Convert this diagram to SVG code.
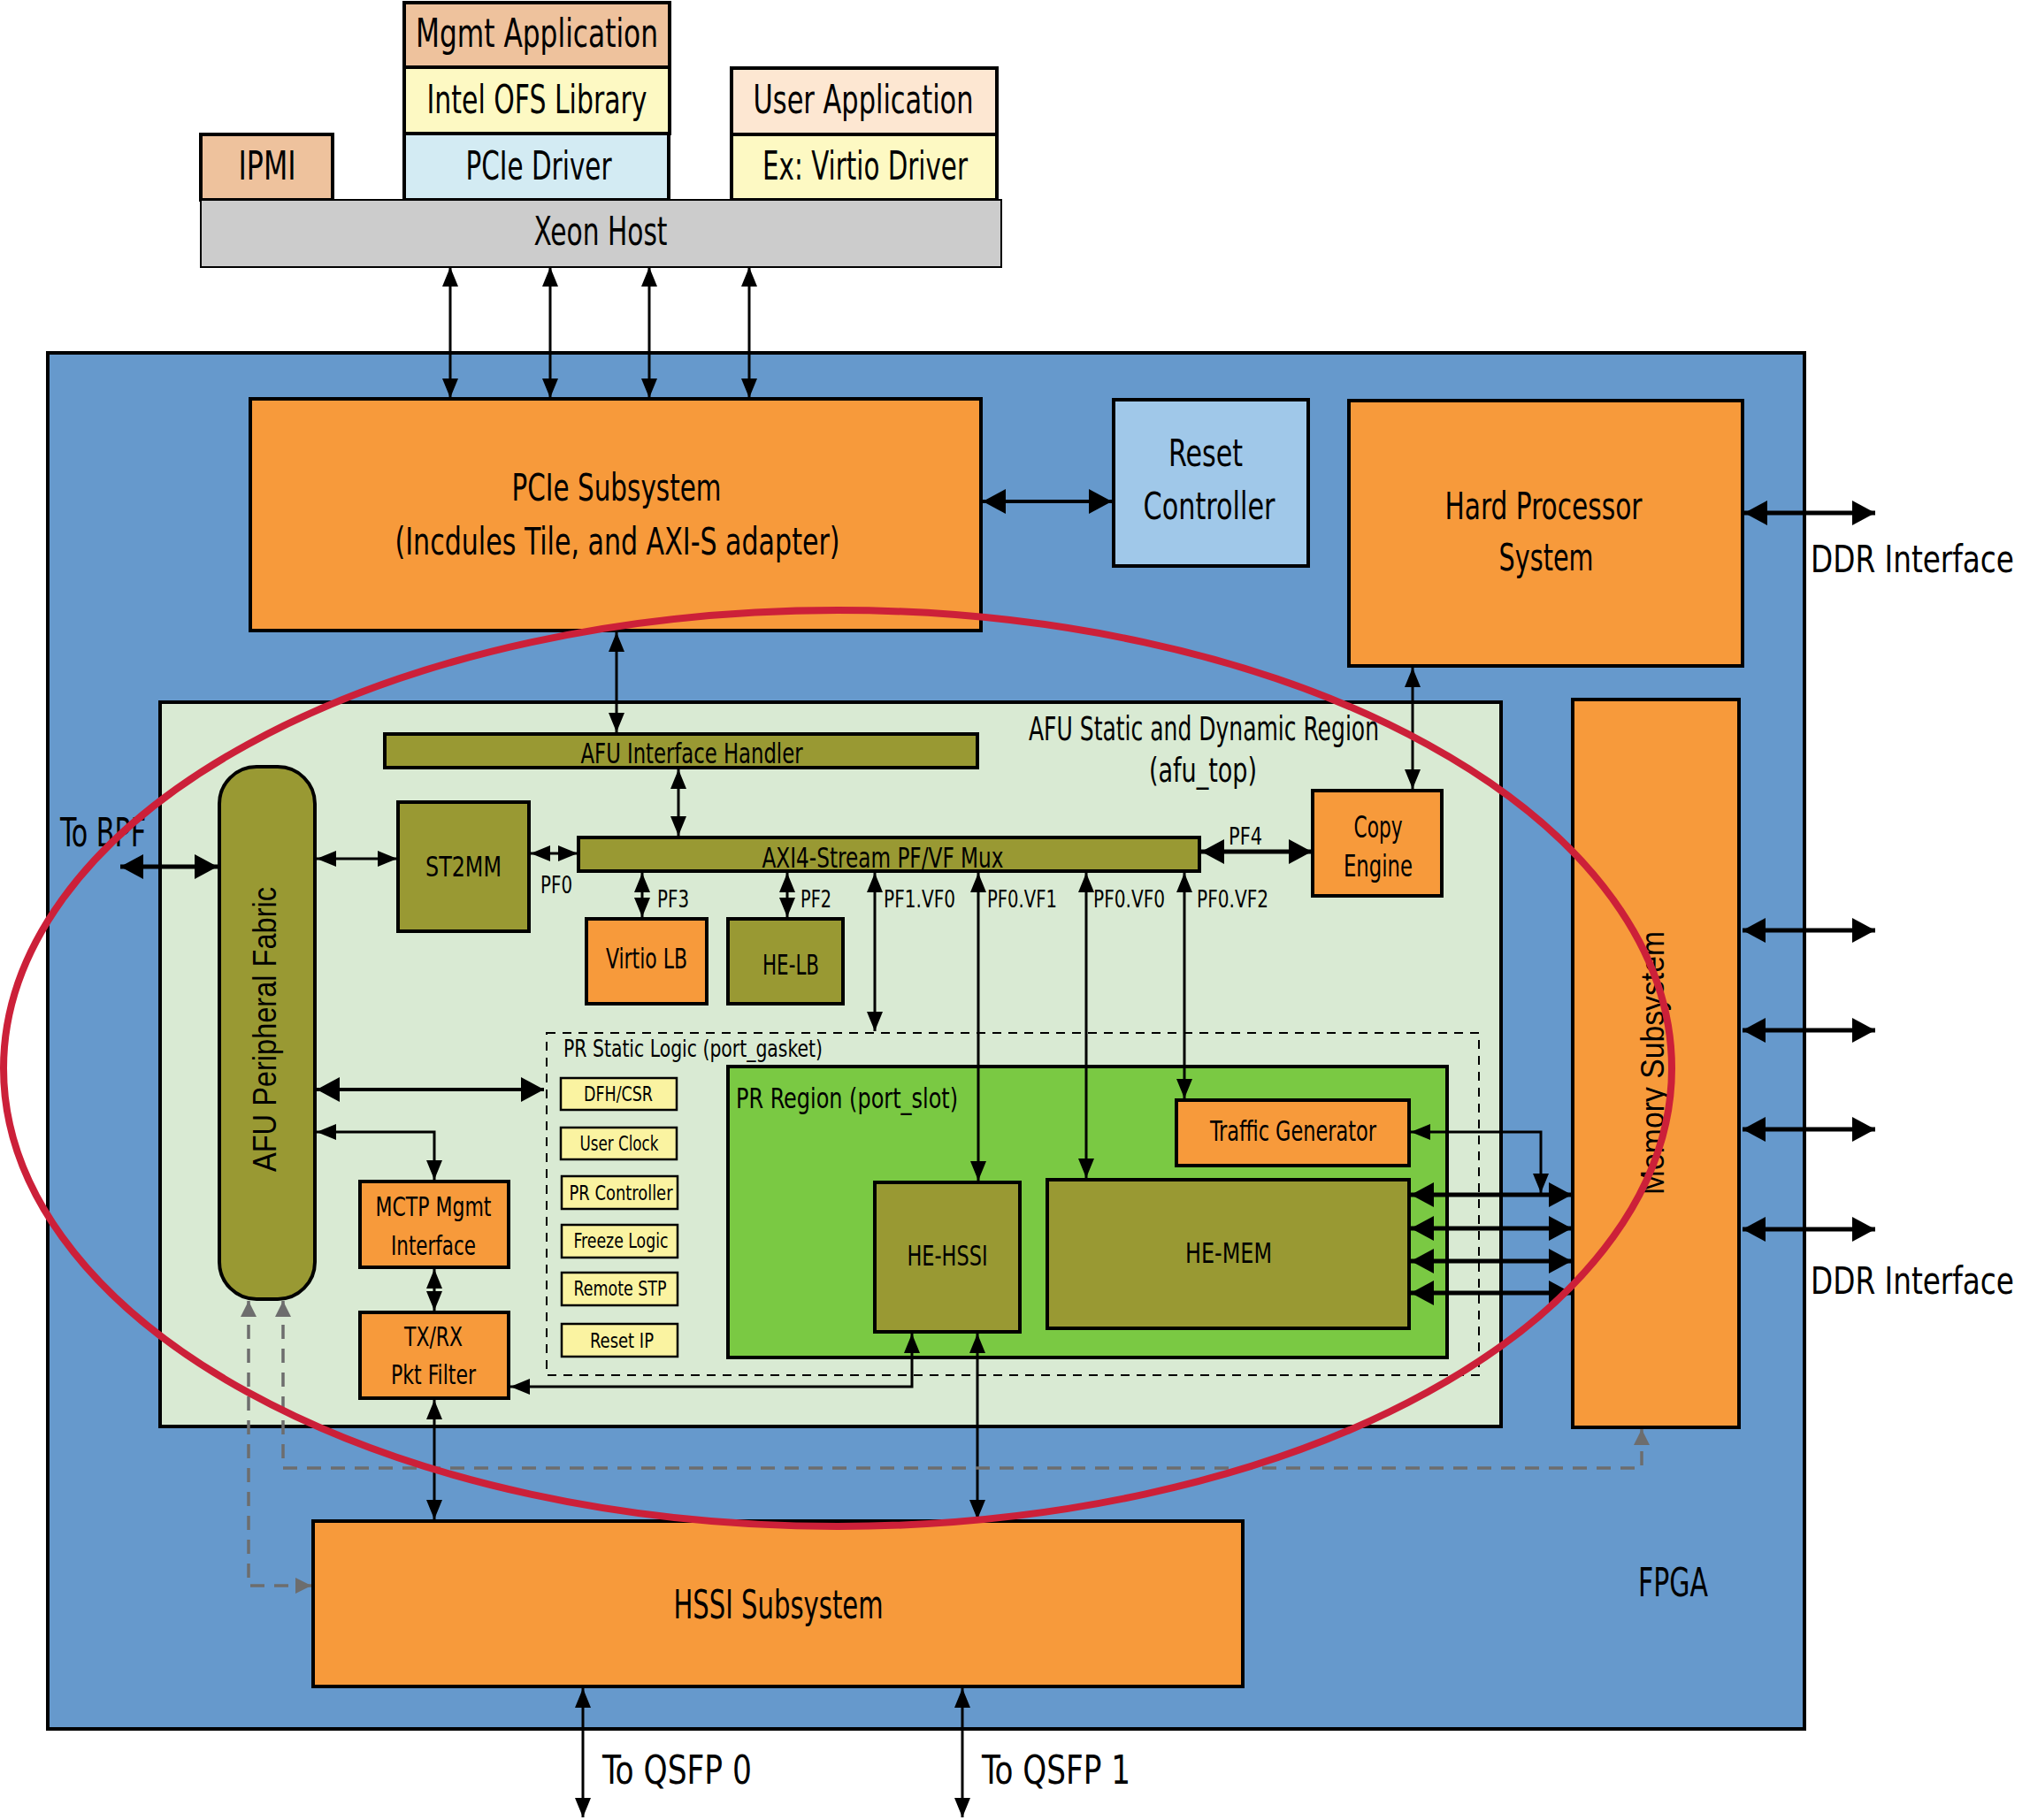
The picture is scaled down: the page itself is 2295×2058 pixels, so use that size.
<svg xmlns="http://www.w3.org/2000/svg" width="2295" height="2058" viewBox="0 0 2295 2058">
<style>
.bx{stroke:#000;stroke-width:4}
.or{fill:#F79A3B}
.ol{fill:#999933}
.ye{fill:#FAF3A1;stroke:#000;stroke-width:2.5}
.t{font-family:'Liberation Sans Narrow','DejaVu Sans Condensed','Liberation Sans',sans-serif;fill:#000}
.w{font-family:'Liberation Sans','DejaVu Sans',sans-serif;fill:#000}
.c{text-anchor:middle}
.ln{fill:none;stroke:#000;stroke-width:3}
.lb{fill:none;stroke:#000;stroke-width:5}
.gd{fill:none;stroke:#6D6D6D;stroke-width:3.5;stroke-dasharray:16,11}
</style>
<defs>
<marker id="s" viewBox="0 0 22 18" refX="22" refY="9" markerWidth="22" markerHeight="18" markerUnits="userSpaceOnUse" orient="auto-start-reverse"><path d="M0,0L22,9L0,18z" fill="#000"/></marker>
<marker id="b" viewBox="0 0 26 28" refX="26" refY="14" markerWidth="26" markerHeight="28" markerUnits="userSpaceOnUse" orient="auto-start-reverse"><path d="M0,0L26,14L0,28z" fill="#000"/></marker>
<marker id="g" viewBox="0 0 18 18" refX="18" refY="9" markerWidth="18" markerHeight="18" markerUnits="userSpaceOnUse" orient="auto-start-reverse"><path d="M0,0L18,9L0,18z" fill="#6D6D6D"/></marker>
</defs>
<rect width="2295" height="2058" fill="#fff"/>

<!-- Host software stack -->
<g id="mgmt-app"><rect x="457" y="3" width="300" height="73" class="bx" fill="#EEC29D"/><text class="t c" x="607" y="53" font-size="44" textLength="274" lengthAdjust="spacingAndGlyphs">Mgmt Application</text></g>
<g id="ofs-lib"><rect x="457" y="76" width="300" height="75" class="bx" fill="#FDF9C3"/><text class="t c" x="607" y="128" font-size="44" textLength="249" lengthAdjust="spacingAndGlyphs">Intel OFS Library</text></g>
<g id="pcie-driver"><rect x="457" y="151" width="299" height="75" class="bx" fill="#D3EBF3"/><text class="t c" x="609" y="203" font-size="44" textLength="165" lengthAdjust="spacingAndGlyphs">PCIe Driver</text></g>
<g id="ipmi"><rect x="227" y="152" width="149" height="74" class="bx" fill="#EEC29D"/><text class="t c" x="302" y="203" font-size="44" textLength="65" lengthAdjust="spacingAndGlyphs">IPMI</text></g>
<g id="user-app"><rect x="827" y="77" width="300" height="75" class="bx" fill="#FDE7D2"/><text class="t c" x="976" y="128" font-size="44" textLength="249" lengthAdjust="spacingAndGlyphs">User Application</text></g>
<g id="virtio-driver"><rect x="827" y="152" width="300" height="74" class="bx" fill="#FDF9C3"/><text class="t c" x="978" y="203" font-size="44" textLength="232" lengthAdjust="spacingAndGlyphs">Ex: Virtio Driver</text></g>
<g id="xeon-host"><rect x="227" y="226" width="905" height="76" stroke="#000" stroke-width="2" fill="#CCCCCC"/><text class="t c" x="679" y="277" font-size="44" textLength="151" lengthAdjust="spacingAndGlyphs">Xeon Host</text></g>

<!-- FPGA -->
<g id="fpga"><rect x="54" y="399" width="1986" height="1556" class="bx" fill="#6699CC"/><text class="t" x="1852" y="1805" font-size="44" textLength="79" lengthAdjust="spacingAndGlyphs">FPGA</text></g>

<g id="pcie-subsystem"><rect x="283" y="451" width="826" height="262" class="bx or"/><text class="t c" x="697" y="566" font-size="43" textLength="237" lengthAdjust="spacingAndGlyphs">PCIe Subsystem</text><text class="t c" x="698" y="627" font-size="43" textLength="503" lengthAdjust="spacingAndGlyphs">(Incdules Tile, and AXI-S adapter)</text></g>
<g id="reset-controller"><rect x="1259" y="452" width="220" height="188" class="bx" fill="#A0C8E9"/><text class="t c" x="1363" y="527" font-size="43" textLength="84" lengthAdjust="spacingAndGlyphs">Reset</text><text class="t c" x="1367" y="587" font-size="43" textLength="149" lengthAdjust="spacingAndGlyphs">Controller</text></g>
<g id="hps"><rect x="1525" y="453" width="445" height="300" class="bx or"/><text class="t c" x="1745" y="587" font-size="43" textLength="223" lengthAdjust="spacingAndGlyphs">Hard Processor</text><text class="t c" x="1748" y="645" font-size="43" textLength="107" lengthAdjust="spacingAndGlyphs">System</text></g>
<g id="ddr-label-1"><text class="t" x="2047" y="647" font-size="42" textLength="230" lengthAdjust="spacingAndGlyphs">DDR Interface</text></g>
<g id="ddr-label-2"><text class="t" x="2047" y="1463" font-size="42" textLength="230" lengthAdjust="spacingAndGlyphs">DDR Interface</text></g>
<g id="to-bpf"><text class="t" x="68" y="957" font-size="44" textLength="97" lengthAdjust="spacingAndGlyphs">To BPF</text></g>

<!-- AFU region -->
<g id="afu-region"><rect x="181" y="794" width="1516" height="819" class="bx" fill="#D9EAD3"/><text class="t c" x="1361" y="837" font-size="37" textLength="396" lengthAdjust="spacingAndGlyphs">AFU Static and Dynamic Region</text><text class="t c" x="1360" y="884" font-size="37" textLength="122" lengthAdjust="spacingAndGlyphs">(afu_top)</text></g>
<g id="memory-subsystem"><rect x="1778" y="791" width="188" height="823" class="bx or"/><text class="w c" x="1881" y="1202" font-size="36" textLength="298" lengthAdjust="spacingAndGlyphs" transform="rotate(-90 1881 1202)">Memory Subsystem</text></g>
<g id="afu-interface-handler"><rect x="435" y="830" width="670" height="38" class="bx ol"/><text class="t c" x="782" y="863" font-size="32" textLength="251" lengthAdjust="spacingAndGlyphs">AFU Interface Handler</text></g>
<g id="afu-peripheral-fabric"><rect x="248" y="867" width="108" height="602" rx="42" class="bx ol"/><text class="w c" x="312" y="1164" font-size="36" textLength="322" lengthAdjust="spacingAndGlyphs" transform="rotate(-90 312 1164)">AFU Peripheral Fabric</text></g>
<g id="st2mm"><rect x="450" y="907" width="148" height="146" class="bx ol"/><text class="t c" x="524" y="991" font-size="32" textLength="86" lengthAdjust="spacingAndGlyphs">ST2MM</text></g>
<g id="pfvf-mux"><rect x="654" y="947" width="702" height="38" class="bx ol"/><text class="t c" x="998" y="981" font-size="32" textLength="273" lengthAdjust="spacingAndGlyphs">AXI4-Stream PF/VF Mux</text></g>
<g id="copy-engine"><rect x="1484" y="894" width="146" height="119" class="bx or"/><text class="t c" x="1558" y="947" font-size="34" textLength="55" lengthAdjust="spacingAndGlyphs">Copy</text><text class="t c" x="1558" y="991" font-size="34" textLength="78" lengthAdjust="spacingAndGlyphs">Engine</text></g>
<g id="virtio-lb"><rect x="663" y="1039" width="136" height="96" class="bx or"/><text class="t c" x="731" y="1095" font-size="32" textLength="92" lengthAdjust="spacingAndGlyphs">Virtio LB</text></g>
<g id="he-lb"><rect x="823" y="1039" width="130" height="96" class="bx ol"/><text class="t c" x="894" y="1102" font-size="32" textLength="64" lengthAdjust="spacingAndGlyphs">HE-LB</text></g>

<g id="pr-static"><rect x="618" y="1168" width="1054" height="387" fill="none" stroke="#000" stroke-width="2" stroke-dasharray="10,8"/><text class="t" x="637" y="1195" font-size="27" textLength="293" lengthAdjust="spacingAndGlyphs">PR Static Logic (port_gasket)</text></g>
<g id="dfh-csr"><rect x="634" y="1219" width="131" height="36" class="ye"/><text class="t c" x="699" y="1245" font-size="23" textLength="78" lengthAdjust="spacingAndGlyphs">DFH/CSR</text></g>
<g id="user-clock"><rect x="634" y="1275" width="131" height="36" class="ye"/><text class="t c" x="700" y="1301" font-size="23" textLength="89" lengthAdjust="spacingAndGlyphs">User Clock</text></g>
<g id="pr-controller"><rect x="635" y="1330" width="131" height="37" class="ye"/><text class="t c" x="702" y="1357" font-size="23" textLength="117" lengthAdjust="spacingAndGlyphs">PR Controller</text></g>
<g id="freeze-logic"><rect x="635" y="1385" width="131" height="37" class="ye"/><text class="t c" x="702" y="1411" font-size="23" textLength="107" lengthAdjust="spacingAndGlyphs">Freeze Logic</text></g>
<g id="remote-stp"><rect x="635" y="1439" width="131" height="37" class="ye"/><text class="t c" x="701" y="1465" font-size="23" textLength="105" lengthAdjust="spacingAndGlyphs">Remote STP</text></g>
<g id="reset-ip"><rect x="635" y="1497" width="131" height="37" class="ye"/><text class="t c" x="703" y="1524" font-size="23" textLength="72" lengthAdjust="spacingAndGlyphs">Reset IP</text></g>

<g id="pr-region"><rect x="823" y="1206" width="813" height="329" class="bx" fill="#7AC943"/><text class="t" x="832" y="1253" font-size="32" textLength="251" lengthAdjust="spacingAndGlyphs">PR Region (port_slot)</text></g>
<g id="traffic-generator"><rect x="1330" y="1244" width="263" height="74" class="bx or"/><text class="t c" x="1462" y="1290" font-size="32" textLength="188" lengthAdjust="spacingAndGlyphs">Traffic Generator</text></g>
<g id="he-hssi"><rect x="989" y="1337" width="164" height="169" class="bx ol"/><text class="t c" x="1071" y="1431" font-size="32" textLength="91" lengthAdjust="spacingAndGlyphs">HE-HSSI</text></g>
<g id="he-mem"><rect x="1184" y="1334" width="409" height="168" class="bx ol"/><text class="t c" x="1389" y="1428" font-size="32" textLength="98" lengthAdjust="spacingAndGlyphs">HE-MEM</text></g>

<g id="mctp"><rect x="407" y="1336" width="168" height="97" class="bx or"/><text class="t c" x="490" y="1375" font-size="30" textLength="131" lengthAdjust="spacingAndGlyphs">MCTP Mgmt</text><text class="t c" x="490" y="1419" font-size="30" textLength="96" lengthAdjust="spacingAndGlyphs">Interface</text></g>
<g id="txrx-filter"><rect x="407" y="1484" width="168" height="97" class="bx or"/><text class="t c" x="490" y="1522" font-size="30" textLength="66" lengthAdjust="spacingAndGlyphs">TX/RX</text><text class="t c" x="490" y="1565" font-size="30" textLength="96" lengthAdjust="spacingAndGlyphs">Pkt Filter</text></g>

<g id="hssi-subsystem"><rect x="354" y="1720" width="1051" height="187" class="bx or"/><text class="t c" x="880" y="1830" font-size="44" textLength="237" lengthAdjust="spacingAndGlyphs">HSSI Subsystem</text></g>
<g id="qsfp-labels"><text class="t" x="681" y="2017" font-size="44" textLength="169" lengthAdjust="spacingAndGlyphs">To QSFP 0</text><text class="t" x="1110" y="2017" font-size="44" textLength="168" lengthAdjust="spacingAndGlyphs">To QSFP 1</text></g>

<!-- Connectors -->
<g id="connectors">
<path class="ln" d="M509,302V450" marker-start="url(#s)" marker-end="url(#s)"/>
<path class="ln" d="M622,302V450" marker-start="url(#s)" marker-end="url(#s)"/>
<path class="ln" d="M734,302V450" marker-start="url(#s)" marker-end="url(#s)"/>
<path class="ln" d="M847,302V450" marker-start="url(#s)" marker-end="url(#s)"/>
<path class="lb" style="stroke-width:4" d="M1111,567H1257" marker-start="url(#b)" marker-end="url(#b)"/>
<path class="lb" d="M1972,580H2120" marker-start="url(#b)" marker-end="url(#b)"/>
<path class="ln" d="M1597,755V892" marker-start="url(#s)" marker-end="url(#s)"/>
<path class="ln" d="M697,715V828" marker-start="url(#s)" marker-end="url(#s)"/>
<path class="ln" d="M767,870V945" marker-start="url(#s)" marker-end="url(#s)"/>
<path class="lb" d="M136,980H246" marker-start="url(#b)" marker-end="url(#b)"/>
<path class="ln" d="M358,971H449" marker-start="url(#s)" marker-end="url(#s)"/>
<path class="ln" d="M600,965H653" marker-start="url(#s)" marker-end="url(#s)"/>
<path class="ln" d="M726,987V1037" marker-start="url(#s)" marker-end="url(#s)"/>
<path class="ln" d="M890,987V1037" marker-start="url(#s)" marker-end="url(#s)"/>
<path class="ln" d="M989,987V1166" marker-start="url(#s)" marker-end="url(#s)"/>
<path class="ln" d="M1106,987V1335" marker-start="url(#s)" marker-end="url(#s)"/>
<path class="ln" d="M1228,987V1332" marker-start="url(#s)" marker-end="url(#s)"/>
<path class="ln" d="M1339,987V1242" marker-start="url(#s)" marker-end="url(#s)"/>
<path class="lb" d="M1358,963H1483" marker-start="url(#b)" marker-end="url(#b)"/>
<path class="lb" style="stroke-width:4" d="M358,1232H615" marker-start="url(#b)" marker-end="url(#b)"/>
<path class="ln" d="M491,1334V1280H358" marker-start="url(#s)" marker-end="url(#s)"/>
<path class="ln" d="M491,1435V1482" marker-start="url(#s)" marker-end="url(#s)"/>
<path class="ln" d="M491,1583V1718" marker-start="url(#s)" marker-end="url(#s)"/>
<path class="ln" d="M1031,1508V1568H577" marker-start="url(#s)" marker-end="url(#s)"/>
<path class="ln" d="M1105,1508V1718" marker-start="url(#s)" marker-end="url(#s)"/>
<path class="ln" d="M1595,1280H1742V1349" marker-start="url(#s)" marker-end="url(#s)"/>
<path class="lb" d="M1595,1351H1777" marker-start="url(#b)" marker-end="url(#b)"/>
<path class="lb" d="M1595,1389H1777" marker-start="url(#b)" marker-end="url(#b)"/>
<path class="lb" d="M1595,1426H1777" marker-start="url(#b)" marker-end="url(#b)"/>
<path class="lb" d="M1595,1462H1777" marker-start="url(#b)" marker-end="url(#b)"/>
<path class="lb" d="M1970,1052H2120" marker-start="url(#b)" marker-end="url(#b)"/>
<path class="lb" d="M1970,1165H2120" marker-start="url(#b)" marker-end="url(#b)"/>
<path class="lb" d="M1970,1277H2120" marker-start="url(#b)" marker-end="url(#b)"/>
<path class="lb" d="M1970,1390H2120" marker-start="url(#b)" marker-end="url(#b)"/>
<path class="ln" d="M659,1909V2055" marker-start="url(#s)" marker-end="url(#s)"/>
<path class="ln" d="M1088,1909V2055" marker-start="url(#s)" marker-end="url(#s)"/>
<path class="gd" d="M320,1471V1660H1856V1616" marker-start="url(#g)" marker-end="url(#g)"/>
<path class="gd" d="M281,1471V1793H352" marker-start="url(#g)" marker-end="url(#g)"/>
</g>
<g id="pf-labels">
<text class="t" x="611" y="1010" font-size="27" textLength="36" lengthAdjust="spacingAndGlyphs">PF0</text>
<text class="t" x="743" y="1026" font-size="27" textLength="36" lengthAdjust="spacingAndGlyphs">PF3</text>
<text class="t" x="905" y="1026" font-size="27" textLength="35" lengthAdjust="spacingAndGlyphs">PF2</text>
<text class="t" x="999" y="1026" font-size="27" textLength="81" lengthAdjust="spacingAndGlyphs">PF1.VF0</text>
<text class="t" x="1116" y="1026" font-size="27" textLength="79" lengthAdjust="spacingAndGlyphs">PF0.VF1</text>
<text class="t" x="1236" y="1026" font-size="27" textLength="81" lengthAdjust="spacingAndGlyphs">PF0.VF0</text>
<text class="t" x="1353" y="1026" font-size="27" textLength="81" lengthAdjust="spacingAndGlyphs">PF0.VF2</text>
<text class="t" x="1389" y="955" font-size="27" textLength="38" lengthAdjust="spacingAndGlyphs">PF4</text>
</g>
<g id="highlight"><ellipse cx="947" cy="1208" rx="943" ry="518" fill="none" stroke="#CC2039" stroke-width="8"/></g>
</svg>
